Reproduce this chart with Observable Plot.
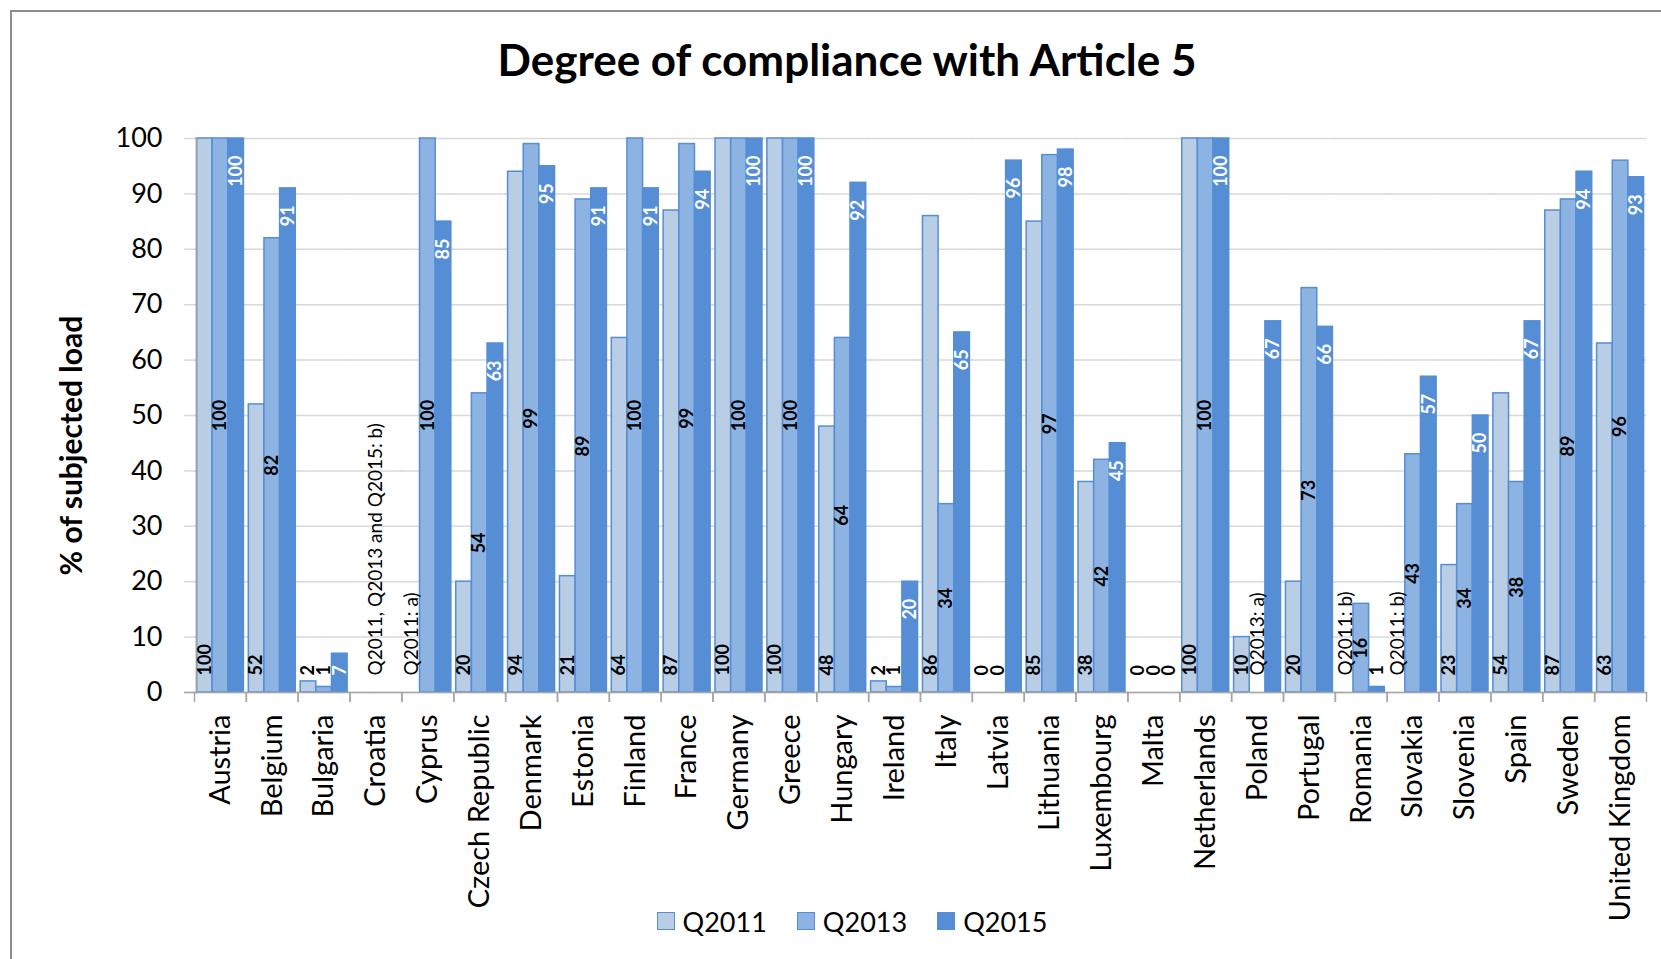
<!DOCTYPE html>
<html>
<head>
<meta charset="utf-8">
<script src="https://cdn.jsdelivr.net/npm/d3@7"></script>
<script src="https://cdn.jsdelivr.net/npm/@observablehq/plot@0.6"></script>
<style>
  body { margin: 0; background: #fff; font-family: Lato, "Open Sans", sans-serif; color: #000; }
  #page { position: relative; width: 1661px; height: 959px; overflow: hidden; }
  #border { position: absolute; left: 10px; top: 10px; width: 1720px; height: 1020px;
            border: 2px solid #8c8c8c; box-sizing: border-box; pointer-events: none; }
  #title { height: 100px; box-sizing: border-box; padding-top: 35px; width: 1694px;
           text-align: center; font-weight: bold; font-size: 44px; line-height: 48px; }
  #legend { position: absolute; top: 905px; left: 0; width: 1704px; height: 32px;
            display: flex; justify-content: center; align-items: center; font-size: 27px; }
  .item { display: flex; align-items: center; margin: 0 15px; }
  .swatch { width: 18px; height: 18px; box-sizing: border-box; border: 1.5px solid #558ed5; margin-right: 8px; }
</style>
</head>
<body>
<div id="page">
  <div id="border"></div>
  <div id="title">Degree of compliance with Article 5</div>
  <div id="chart"></div>
  <div id="legend"></div>
</div>
<script>
// Member states, in axis order
const countries = [
  "Austria", "Belgium", "Bulgaria", "Croatia", "Cyprus", "Czech Republic", "Denmark",
  "Estonia", "Finland", "France", "Germany", "Greece", "Hungary", "Ireland", "Italy",
  "Latvia", "Lithuania", "Luxembourg", "Malta", "Netherlands", "Poland", "Portugal",
  "Romania", "Slovakia", "Slovenia", "Spain", "Sweden", "United Kingdom"
];

// % of subjected load per reporting period (null = not reported, see notes)
const q2011 = [100, 52, 2, null, null, 20, 94, 21, 64, 87, 100, 100, 48, 2, 86, 0, 85, 38, 0, 100, 10, 20, null, null, 23, 54, 87, 63];
const q2013 = [100, 82, 1, null, 100, 54, 99, 89, 100, 99, 100, 100, 64, 1, 34, 0, 97, 42, 0, 100, null, 73, 16, 43, 34, 38, 89, 96];
const q2015 = [100, 91, 7, null, 85, 63, 95, 91, 91, 94, 100, 100, 92, 20, 65, 96, 98, 45, 0, 100, 67, 66, 1, 57, 50, 67, 94, 93];

const seriesNames = ["Q2011", "Q2013", "Q2015"];
const seriesFill = ["#b9cde5", "#8db3e2", "#558ed5"];

// Footnote markers shown in place of missing values
const notes = [
  {country: "Croatia", series: "Q2013", text: "Q2011, Q2013 and Q2015: b)"},
  {country: "Cyprus", series: "Q2011", text: "Q2011: a)"},
  {country: "Poland", series: "Q2013", text: "Q2013: a)"},
  {country: "Romania", series: "Q2011", text: "Q2011: b)"},
  {country: "Slovakia", series: "Q2011", text: "Q2011: b)"}
];

const yTicks = [0, 10, 20, 30, 40, 50, 60, 70, 80, 90, 100];
const yLabel = "% of subjected load";

// Long-format table for the grouped bars
const columns = [q2011, q2013, q2015];
const rows = countries.flatMap((country, i) =>
  seriesNames.map((series, j) => ({country, series, value: columns[j][i]}))
);
const bars = rows.filter(d => d.value != null);

const width = 1661, height = 805, marginLeft = 194, marginRight = 15;
const padInner = 0.094;
const step = (width - marginLeft - marginRight) / countries.length;
// horizontal rules are repeated per country panel; stretch them over the gaps
const bridge = -(padInner * step / 2 + 0.6);
const axisOffset = padInner * step / 2; // panel edge sits this far right of the category boundary

const label = {
  fx: "country", x: "series", text: d => String(d.value),
  rotate: -90, lineAnchor: "middle", fontSize: 18, fontWeight: "bold"
};
const atBase = {y: 0, dy: -17, textAnchor: "start"};

const baseBlack = bars.filter(d => d.series === "Q2011" || (d.series !== "Q2011" && d.value < 5));
const baseWhite = bars.filter(d => d.series === "Q2015" && d.value >= 5 && d.value < 10);
const centered = bars.filter(d => d.series === "Q2013" && d.value >= 5);
const topWhite = bars.filter(d => d.series === "Q2015" && d.value >= 10);

const chart = Plot.plot({
  width, height,
  marginTop: 38, marginBottom: 213, marginLeft, marginRight,
  style: {fontFamily: "Lato, 'Open Sans', sans-serif", color: "#000", background: "transparent", overflow: "visible"},
  fx: {domain: countries, paddingInner: padInner, paddingOuter: padInner / 2, round: false},
  x: {domain: seriesNames, padding: 0, round: false, axis: null},
  y: {domain: [0, 100], axis: null},
  color: {domain: seriesNames, range: seriesFill},
  marks: [
    Plot.gridY(yTicks, {stroke: "#d9d9d9", strokeOpacity: 1, strokeWidth: 1.5, insetLeft: bridge, insetRight: bridge}),
    Plot.axisY({ticks: yTicks, tickSize: 10 + axisOffset, tickFormat: () => "", stroke: "#d9d9d9", strokeWidth: 1.5, label: null}),
    Plot.barY(bars, {fx: "country", x: "series", y: "value", fill: "series", stroke: "#558ed5", strokeWidth: 1.5}),
    Plot.frame({anchor: "left", stroke: "#a6a6a6", strokeWidth: 1.5, facet: "super"}),
    Plot.ruleY([0], {stroke: "#a6a6a6", strokeWidth: 1.5, insetLeft: bridge, insetRight: bridge}),
    Plot.axisY({ticks: [0], tickSize: 10 + axisOffset, tickFormat: () => "", stroke: "#a6a6a6", strokeWidth: 1.5, label: null}),
    Plot.axisY({ticks: yTicks, tickSize: 0, tickPadding: 32 + axisOffset, fontSize: 27, label: null}),
    Plot.text([yLabel], {text: d => d, frameAnchor: "left", rotate: -90, dx: -125, dy: 160,
      fontSize: 30, fontWeight: "bold", facet: "super"}),
    Plot.axisFx({anchor: "bottom", tickSize: 10, tickFormat: () => "", dx: step / 2, stroke: "#a6a6a6", strokeWidth: 1.5, label: null}),
    Plot.axisFx({anchor: "bottom", tickSize: 10, tickFormat: () => "", dx: -step / 2, stroke: "#a6a6a6", strokeWidth: 1.5, label: null}),
    Plot.axisFx({anchor: "bottom", tickSize: 0, tickPadding: 22, tickRotate: -90, fontSize: 29, label: null}),
    Plot.text(baseBlack, {...label, ...atBase, fill: "#000"}),
    Plot.text(baseWhite, {...label, ...atBase, fill: "#fff"}),
    Plot.text(centered, {...label, y: d => d.value / 2, textAnchor: "middle", fill: "#000"}),
    Plot.text(topWhite, {...label, y: "value", dy: 17, textAnchor: "end", fill: "#fff"}),
    Plot.text(notes, {fx: "country", x: "series", y: 0, dy: -17, text: "text", rotate: -90,
      lineAnchor: "middle", textAnchor: "start", fontSize: 19, fill: "#000"})
  ]
});
document.getElementById("chart").append(chart);

// Legend below the chart
const legend = d3.select("#legend");
seriesNames.forEach((name, i) => {
  const item = legend.append("div").attr("class", "item");
  item.append("div").attr("class", "swatch").style("background", seriesFill[i]);
  item.append("span").text(name);
});
</script>
</body>
</html>
